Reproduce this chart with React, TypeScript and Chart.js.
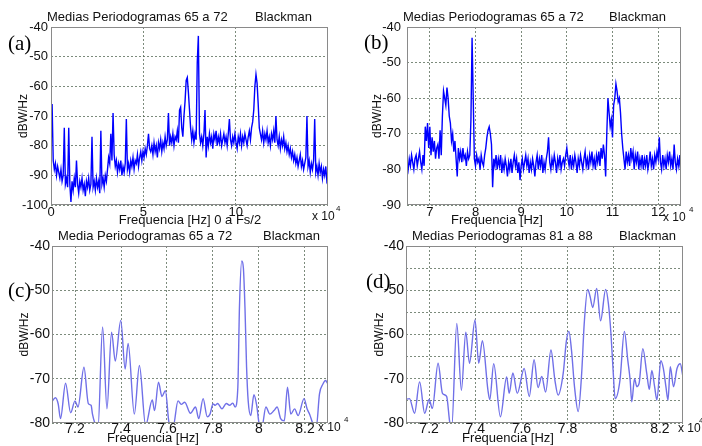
import React, { useEffect, useRef } from 'react';
import { Chart, registerables } from 'chart.js';

Chart.register(...registerables);

// ---------------- DATA ----------------
// (a) full band 0 .. Fs/2, frequency in units of 10^4 Hz
const A_FREQ_START = 0;
const A_FREQ_STEP = 0.06;
const A_DB = [
  -82, -66, -85, -88, -86, -90, -87, -89, -91, -88,
  -92, -90, -74, -93, -91, -94, -74, -93, -99, -92,
  -95, -91, -94, -85, -93, -96, -92, -94, -91, -95,
  -93, -97, -92, -94, -91, -95, -93, -77, -94, -92,
  -95, -91, -94, -92, -96, -75, -93, -91, -94, -90,
  -92, -88, -84, -86, -76, -85, -69, -83, -87, -85,
  -89, -86, -88, -85, -90, -87, -89, -86, -71, -88,
  -86, -89, -85, -87, -84, -88, -85, -86, -83, -87,
  -84, -82, -85, -82, -84, -81, -83, -80, -76, -81,
  -82, -80, -83, -79, -82, -80, -84, -79, -81, -78,
  -82, -79, -81, -77, -80, -78, -69, -80, -77, -79,
  -76, -80, -77, -78, -75, -79, -68, -67, -74, -77,
  -70, -65, -58, -57, -62, -68, -74, -78, -75, -79,
  -76, -78, -52, -43, -76, -79, -77, -80, -76, -68,
  -84, -77, -80, -76, -79, -77, -81, -76, -78, -75,
  -80, -77, -79, -76, -80, -78, -76, -79, -77, -80,
  -76, -71, -78, -80, -77, -79, -76, -79, -81, -77,
  -79, -76, -80, -77, -79, -76, -78, -80, -77, -75,
  -78, -74, -72, -68, -60, -56, -59, -66, -74, -76,
  -78, -75, -79, -76, -78, -75, -79, -77, -80, -76,
  -78, -75, -79, -70, -78, -80, -77, -81, -78, -80,
  -77, -81, -79, -82, -80, -83, -81, -84, -82, -85,
  -83, -86, -84, -87, -85, -83, -87, -85, -88, -86,
  -84, -70, -87, -85, -89, -86, -88, -85, -71, -89,
  -87, -90, -86, -89, -87, -91, -88, -90, -87, -92,
  -91,
];

// (b) zoom 6.5 .. 12.5 x 10^4 Hz
const B_FREQ_START = 6.5;
const B_FREQ_STEP = 0.025;
const B_DB = [
  -78, -80, -77, -79, -76, -78, -80, -77, -76, -79,
  -77, -75, -78, -80, -76, -79, -68, -72, -67, -74,
  -68, -76, -71, -75, -72, -77, -74, -73, -77, -69,
  -76, -65, -58, -60, -62, -57, -60, -65, -67, -72,
  -70, -75, -72, -77, -82, -74, -77, -75, -78, -74,
  -77, -76, -79, -75, -77, -76, -66, -43, -60, -77,
  -79, -76, -78, -77, -80, -76, -78, -79, -76, -74,
  -71, -69, -68, -70, -73, -85, -77, -79, -76, -80,
  -77, -79, -76, -81, -78, -80, -77, -79, -82, -78,
  -80, -77, -81, -78, -76, -79, -77, -81, -78, -83,
  -79, -77, -80, -78, -76, -79, -77, -81, -78, -80,
  -77, -79, -82, -78, -76, -80, -77, -79, -76, -81,
  -78, -80, -77, -75, -71, -78, -80, -77, -79, -76,
  -78, -81, -77, -79, -76, -80, -78, -77, -79, -76,
  -74, -77, -79, -76, -80, -77, -79, -76, -78, -81,
  -77, -79, -76, -78, -80, -77, -75, -79, -77, -80,
  -76, -78, -75, -79, -77, -80, -76, -78, -75, -79,
  -74, -77, -73, -76, -82, -70, -60, -64, -68, -66,
  -71, -62, -60, -56, -58, -61, -60, -64, -70, -74,
  -77, -80, -75, -78, -76, -79, -74, -77, -75, -80,
  -76, -78, -75, -80, -77, -79, -76, -80, -77, -79,
  -76, -80, -78, -75, -79, -77, -80, -76, -78, -75,
  -77, -71, -78, -80, -76, -79, -77, -80, -76, -78,
  -75, -79, -77, -80, -73, -78, -80, -77, -79, -76,
  -82,
];

// (c) Media periodogramas 65 a 72, 7.1 .. 8.3 x 10^4 Hz
const C_FREQ = [
  7.098, 7.115, 7.127, 7.137, 7.159, 7.181, 7.2, 7.213, 7.239, 7.258,
  7.27, 7.276, 7.29, 7.3, 7.32, 7.339, 7.359, 7.375, 7.399, 7.418,
  7.431, 7.458, 7.48, 7.507, 7.536, 7.546, 7.563, 7.578, 7.593, 7.609,
  7.626, 7.648, 7.662, 7.677, 7.702, 7.724, 7.738, 7.757, 7.775, 7.787,
  7.8, 7.81, 7.82, 7.839, 7.858, 7.872, 7.886, 7.896, 7.908, 7.915,
  7.925, 7.932, 7.939, 7.946, 7.953, 7.964, 7.978, 7.99, 8.0, 8.012,
  8.03, 8.047, 8.065, 8.079, 8.094, 8.11, 8.124, 8.138, 8.155, 8.17,
  8.196, 8.209, 8.22, 8.237, 8.249, 8.263, 8.278, 8.289, 8.3,
];
const C_DB = [
  -75.3, -74.3, -75.7, -79, -71, -77.7, -75, -76.4, -67.4, -75.6,
  -76, -78, -80.5, -81, -58.3, -76.8, -59.5, -66, -56.8, -67.8,
  -62, -78, -67, -80.5, -74.8, -77.2, -70.8, -74, -72.7, -80,
  -81, -75, -75.8, -75.3, -77.8, -76.4, -79, -74.5, -78.6, -78,
  -75.7, -76, -75.6, -76.8, -75.6, -76, -75.5, -76.4, -71.9, -53.9,
  -43.4, -44.9, -53.9, -67.4, -75, -78.3, -73.6, -76, -80, -81,
  -76.4, -78, -77.2, -76.4, -79, -79.5, -71.9, -78, -76.8, -78.3,
  -74.5, -76.8, -78, -80.5, -81, -73.4, -71.2, -70.4, -71.2,
];

// (d) Medias periodogramas 81 a 88, 7.1 .. 8.3 x 10^4 Hz
const D_FREQ = [
  7.098, 7.115, 7.137, 7.159, 7.181, 7.2, 7.214, 7.239, 7.258, 7.276,
  7.29, 7.298, 7.32, 7.34, 7.359, 7.375, 7.399, 7.415, 7.431, 7.455,
  7.463, 7.48, 7.509, 7.536, 7.547, 7.563, 7.582, 7.612, 7.634, 7.655,
  7.672, 7.688, 7.705, 7.728, 7.745, 7.759, 7.781, 7.795, 7.806, 7.817,
  7.83, 7.846, 7.861, 7.872, 7.887, 7.897, 7.909, 7.926, 7.943, 7.965,
  7.977, 7.988, 7.998, 8.006, 8.027, 8.046, 8.061, 8.071, 8.078, 8.09,
  8.1, 8.11, 8.126, 8.143, 8.154, 8.165, 8.177, 8.187, 8.204, 8.215,
  8.226, 8.235, 8.245, 8.259, 8.274, 8.288, 8.3,
];
const D_DB = [
  -74.7, -74.5, -77.8, -70.7, -77.8, -74.7, -76.7, -66.5, -73.3, -74,
  -80, -81, -57.5, -72.6, -59.5, -66.5, -56.7, -66.5, -61.4, -72.6,
  -74.7, -66.6, -78.6, -69.6, -73.3, -68.7, -73.3, -67.7, -74, -65.7,
  -72, -69.5, -73, -63.5, -70.3, -73.7, -68.8, -61.4, -59.3, -63.6,
  -71.8, -77.4, -68.8, -57.6, -49.8, -51.3, -53.9, -49.6, -56.9, -49.8,
  -53.1, -59.9, -68.8, -74.5, -70.3, -59.3, -65.9, -70.3, -75.2, -70,
  -71.8, -71, -63.2, -68.8, -72.4, -68.1, -71.8, -74.8, -65.9, -67.7,
  -71.8, -74.8, -67.3, -71.8, -67.7, -66.6, -69.6,
];

// Tick values
const A_XTICKS = [0, 5, 10];
const B_XTICKS = [7, 8, 9, 10, 11, 12];
const CD_XTICKS = [7.2, 7.4, 7.6, 7.8, 8, 8.2];
const A_YTICKS = [-100, -90, -80, -70, -60, -50, -40];
const B_YTICKS = [-90, -80, -70, -60, -50, -40];
const C_YTICKS = [-80, -70, -60, -50, -40];
const D_YTICKS = [-80, -75, -70, -65, -60, -55, -50, -45, -40];

// ---------------- STYLE / LAYOUT ----------------
const SANS = '"Liberation Sans", Arial, Helvetica, sans-serif';
const SERIF = '"Liberation Serif", "Times New Roman", serif';
const X_AXIS_H = 20;

type TextItem = { text: string; x: number; y: number; size: number; align?: CanvasTextAlign; serif?: boolean };

interface Panel {
  key: string;
  left: number; top: number; width: number; height: number;
  area: { l: number; t: number; r: number; b: number };
  points: { x: number; y: number }[];
  xMin: number; xMax: number; yMin: number; yMax: number;
  xTicks: number[]; yTicks: number[];
  labelEvery10?: boolean;
  color: string; lw: number; smooth: boolean;
  tickSize: number; yTickPad: number; xTickPad: number; yTitlePad: number;
  texts: TextItem[];
}

const PANELS: Panel[] = [
  {
    key: 'a', left: 0, top: 0, width: 351, height: 232,
    area: { l: 51, t: 27, r: 328, b: 205 },
    points: A_DB.map((y, i) => ({ x: A_FREQ_START + i * A_FREQ_STEP, y })),
    xMin: 0, xMax: 15, yMin: -100, yMax: -40,
    xTicks: A_XTICKS, yTicks: A_YTICKS,
    color: '#0000ff', lw: 1.4, smooth: false,
    tickSize: 13, yTickPad: 3, xTickPad: 0, yTitlePad: 16,
    texts: [
      { text: 'Medias Periodogramas 65 a 72', x: 47, y: 17, size: 13 },
      { text: 'Blackman', x: 255, y: 17, size: 13 },
      { text: '(a)', x: 8, y: 44, size: 21, serif: true },
      { text: 'Frequencia [Hz] 0 a Fs/2', x: 190, y: 220, size: 13, align: 'center' },
      { text: 'x 10', x: 312, y: 217, size: 12 },
      { text: '4', x: 336, y: 209, size: 8 },
    ],
  },
  {
    key: 'b', left: 351, top: 0, width: 351, height: 232,
    area: { l: 56, t: 27, r: 330, b: 205 },
    points: B_DB.map((y, i) => ({ x: B_FREQ_START + i * B_FREQ_STEP, y })),
    xMin: 6.5, xMax: 12.5, yMin: -90, yMax: -40,
    xTicks: B_XTICKS, yTicks: B_YTICKS,
    color: '#0000ff', lw: 1.4, smooth: false,
    tickSize: 13, yTickPad: 6, xTickPad: 0, yTitlePad: 19,
    texts: [
      { text: 'Medias Periodogramas 65 a 72', x: 52, y: 17, size: 13 },
      { text: 'Blackman', x: 258, y: 17, size: 13 },
      { text: '(b)', x: 13, y: 43, size: 21, serif: true },
      { text: 'Frequencia [Hz]', x: 146, y: 220, size: 13, align: 'center' },
      { text: 'x 10', x: 312, y: 218, size: 12 },
      { text: '4', x: 338, y: 210, size: 8 },
    ],
  },
  {
    key: 'c', left: 0, top: 223, width: 351, height: 223,
    area: { l: 52, t: 23, r: 328, b: 200 },
    points: C_DB.map((y, i) => ({ x: C_FREQ[i], y })),
    xMin: 7.1, xMax: 8.3, yMin: -80, yMax: -40,
    xTicks: CD_XTICKS, yTicks: C_YTICKS,
    color: 'rgb(112,112,232)', lw: 1.4, smooth: true,
    tickSize: 14, yTickPad: 2, xTickPad: -2, yTitlePad: 17,
    texts: [
      { text: 'Media Periodogramas 65 a 72', x: 58, y: 13, size: 13 },
      { text: 'Blackman', x: 263, y: 13, size: 13 },
      { text: '(c)', x: 8, y: 68, size: 21, serif: true },
      { text: 'Frequencia [Hz]', x: 153, y: 215, size: 13, align: 'center' },
      { text: 'x 10', x: 318, y: 205, size: 12 },
      { text: '4', x: 344, y: 197, size: 8 },
    ],
  },
  {
    key: 'd', left: 351, top: 223, width: 351, height: 223,
    area: { l: 55, t: 23, r: 332, b: 200 },
    points: D_DB.map((y, i) => ({ x: D_FREQ[i], y })),
    xMin: 7.1, xMax: 8.3, yMin: -80, yMax: -40,
    xTicks: CD_XTICKS, yTicks: D_YTICKS, labelEvery10: true,
    color: 'rgb(112,112,232)', lw: 1.4, smooth: true,
    tickSize: 14, yTickPad: 2, xTickPad: -2, yTitlePad: 21,
    texts: [
      { text: 'Medias Periodogramas 81 a 88', x: 61, y: 13, size: 13 },
      { text: 'Blackman', x: 268, y: 13, size: 13 },
      { text: '(d)', x: 15, y: 59, size: 21, serif: true },
      { text: 'Frequencia [Hz]', x: 157, y: 215, size: 13, align: 'center' },
      { text: 'x 10', x: 327, y: 206, size: 12 },
      { text: '4', x: 348, y: 198, size: 8 },
    ],
  },
];

function overlayPlugin(p: Panel) {
  return {
    id: 'overlay_' + p.key,
    afterDraw(chart: any) {
      const ctx: CanvasRenderingContext2D = chart.ctx;
      const { left, top, right, bottom } = chart.chartArea;
      ctx.save();
      ctx.strokeStyle = '#8a8a8a';
      ctx.lineWidth = 1;
      ctx.setLineDash([]);
      ctx.strokeRect(Math.round(left) + 0.5, Math.round(top) + 0.5, Math.round(right - left) - 1, Math.round(bottom - top) - 1);
      ctx.textBaseline = 'middle';
      for (const t of p.texts) {
        ctx.font = `${t.size}px ${t.serif ? SERIF : SANS}`;
        ctx.textAlign = t.align || 'left';
        ctx.fillStyle = t.serif ? '#000' : '#111';
        ctx.fillText(t.text, t.x, t.y);
      }
      ctx.restore();
    },
  };
}

function fmt(v: number) {
  return String(Math.round(v * 10) / 10);
}

function makeConfig(p: Panel): any {
  const gridColor = 'rgba(80,100,80,0.75)';
  return {
    type: 'line',
    data: {
      datasets: [
        {
          data: p.points,
          borderColor: p.color,
          borderWidth: p.lw,
          pointRadius: 0,
          fill: false,
          tension: p.smooth ? 0.4 : 0,
          cubicInterpolationMode: p.smooth ? 'monotone' : 'default',
        },
      ],
    },
    options: {
      animation: false,
      responsive: false,
      maintainAspectRatio: false,
      events: [],
      layout: {
        padding: {
          left: 0,
          top: p.area.t,
          right: p.width - p.area.r,
          bottom: p.height - p.area.b - X_AXIS_H,
        },
      },
      plugins: { legend: { display: false }, title: { display: false }, tooltip: { enabled: false } },
      scales: {
        x: {
          type: 'linear',
          min: p.xMin,
          max: p.xMax,
          afterFit: (s: any) => { s.height = X_AXIS_H; },
          afterBuildTicks: (s: any) => { s.ticks = p.xTicks.map((v) => ({ value: v })); },
          ticks: {
            padding: p.xTickPad,
            autoSkip: false,
            maxRotation: 0,
            color: '#111',
            font: { family: SANS, size: p.tickSize },
            callback: (v: number) => fmt(v),
          },
          grid: { color: gridColor, lineWidth: 1, drawTicks: false },
          border: { display: false, dash: [2, 2] },
        },
        y: {
          type: 'linear',
          min: p.yMin,
          max: p.yMax,
          afterFit: (s: any) => { s.width = p.area.l; },
          afterBuildTicks: (s: any) => { s.ticks = p.yTicks.map((v) => ({ value: v })); },
          ticks: {
            padding: p.yTickPad,
            autoSkip: false,
            color: '#111',
            font: { family: SANS, size: p.tickSize },
            callback: (v: number) => (p.labelEvery10 && Math.round(v) % 10 !== 0 ? '' : fmt(v)),
          },
          grid: { color: gridColor, lineWidth: 1, drawTicks: false },
          border: { display: false, dash: [2, 2] },
          title: {
            display: true,
            text: 'dBW/Hz',
            color: '#111',
            font: { family: SANS, size: 12 },
            padding: { top: p.yTitlePad, bottom: 0 },
          },
        },
      },
    },
    plugins: [overlayPlugin(p)],
  };
}

function PanelChart({ p }: { p: Panel }) {
  const ref = useRef<HTMLCanvasElement>(null);
  useEffect(() => {
    if (!ref.current) return;
    const chart = new Chart(ref.current, makeConfig(p));
    return () => chart.destroy();
  }, [p]);
  return (
    <canvas
      ref={ref}
      width={p.width}
      height={p.height}
      style={{ position: 'absolute', left: p.left, top: p.top, width: p.width, height: p.height }}
    />
  );
}

export default function App() {
  return (
    <div style={{ position: 'fixed', left: 0, top: 0, width: 702, height: 446, background: '#ffffff', overflow: 'hidden' }}>
      {PANELS.map((p) => (
        <PanelChart key={p.key} p={p} />
      ))}
    </div>
  );
}
